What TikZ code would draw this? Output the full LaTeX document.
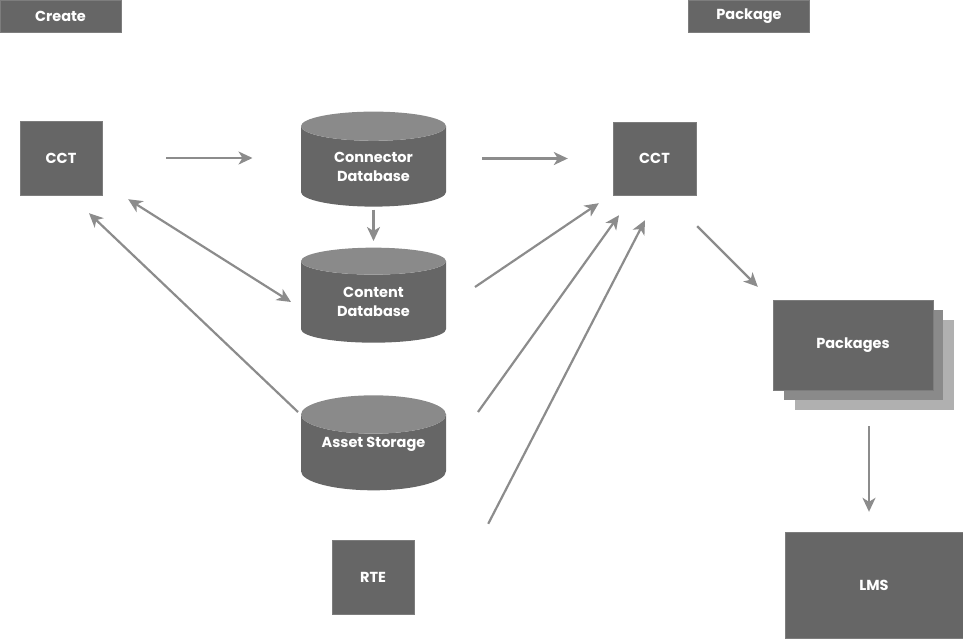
\documentclass[tikz,border=0pt]{standalone}
\usepackage{fontspec}
\setmainfont{Poppins}
\usetikzlibrary{positioning,arrows.meta,shapes.geometric,calc}
\definecolor{boxgray}{HTML}{666666}
\definecolor{topgray}{HTML}{8A8A8A}
\definecolor{backgray}{HTML}{B0B0B0}
\definecolor{arrowgray}{HTML}{8C8C8C}

\begin{document}
\begin{tikzpicture}[
    x=1pt, y=-1pt,
    every node/.style={font=\fontsize{14.5}{19}\selectfont\bfseries, text=white},
    squarenode/.style={rectangle, fill=boxgray, draw=boxgray!85!white, thin, inner sep=0pt},
    tabnode/.style={squarenode, minimum width=121pt, minimum height=32pt},
    dbnode/.style={cylinder, shape border rotate=90, aspect=0.37, draw=none,
        cylinder uses custom fill, cylinder body fill=boxgray, cylinder end fill=topgray,
        minimum width=145pt, minimum height=95pt, align=center, inner sep=0pt},
    >={Stealth[length=14pt, width=13pt, inset=4pt]},
    flow/.style={draw=arrowgray, line width=2.2pt}
    ]
        \useasboundingbox (0,0) rectangle (963,638);
        %Nodes
        \node[tabnode]  (create)  at (60.5,16)   {Create};
        \node[tabnode]  (package) at (749,16)    {Package};
        \node[squarenode, minimum width=82pt, minimum height=74pt]
            (cctL)    at (61,158)    {CCT};
        \node[dbnode]
            (conn)    at (373.5,166.5) {Connector\\Database};
        \node[dbnode]
            (content) at (373.5,302)   {Content\\Database};
        \node[dbnode]
            (asset)   at (373.5,452.5) {\raisebox{8pt}[\height][\depth]{Asset Storage}};
        \node[squarenode, minimum width=82pt, minimum height=74pt]
            (rte)     at (373,577)   {RTE};
        \node[squarenode, minimum width=83pt, minimum height=73pt]
            (cctR)    at (654.5,158.5) {CCT};
        \node[squarenode, fill=backgray, draw=none, minimum width=159pt, minimum height=90pt]
            (pkgb)    at (874.5,365) {};
        \node[squarenode, fill=topgray, draw=none, minimum width=159pt, minimum height=90pt]
            (pkgm)    at (863.5,355) {};
        \node[squarenode, minimum width=160pt, minimum height=90pt]
            (pkg)     at (853,345)   {Packages};
        \node[squarenode, minimum width=178pt, minimum height=106pt]
            (lms)     at (874,585)   {LMS};

        %Lines
        \draw[flow, ->] ($(cctL.east)+(64,0)$) -- ($(conn.center)+(-121,-8.5)$);
        \draw[flow, ->] ($(conn.center)+(0,43)$) -- ($(content.center)+(0,-61)$);
        \draw[flow, <->] ($(cctL.south east)+(26,4)$) -- ($(content.center)+(-82.5,0)$);
        \draw[flow, ->] ($(asset.center)+(-75.5,-40.5)$) -- ($(cctL.south)+(28,18)$);
        \draw[flow, ->] ($(conn.center)+(108.5,-8)$) -- ($(cctR.west)+(-45,0)$);
        \draw[flow, ->] ($(content.center)+(101.5,-15)$) -- ($(cctR.south west)+(-14,8)$);
        \draw[flow, ->] ($(asset.center)+(104.5,-40.5)$) -- ($(cctR.south)+(-35.5,20)$);
        \draw[flow, ->] ($(rte.north east)+(74,-16)$) -- ($(cctR.south)+(-9.5,25)$);
        \draw[flow, ->] ($(cctR.south east)+(1,31)$) -- ($(pkg.north west)+(-15,-13)$);
        \draw[flow, ->] ($(pkgb.south)+(-5.5,16)$) -- ($(lms.north)+(-5,-20)$);
\end{tikzpicture}
\end{document}
